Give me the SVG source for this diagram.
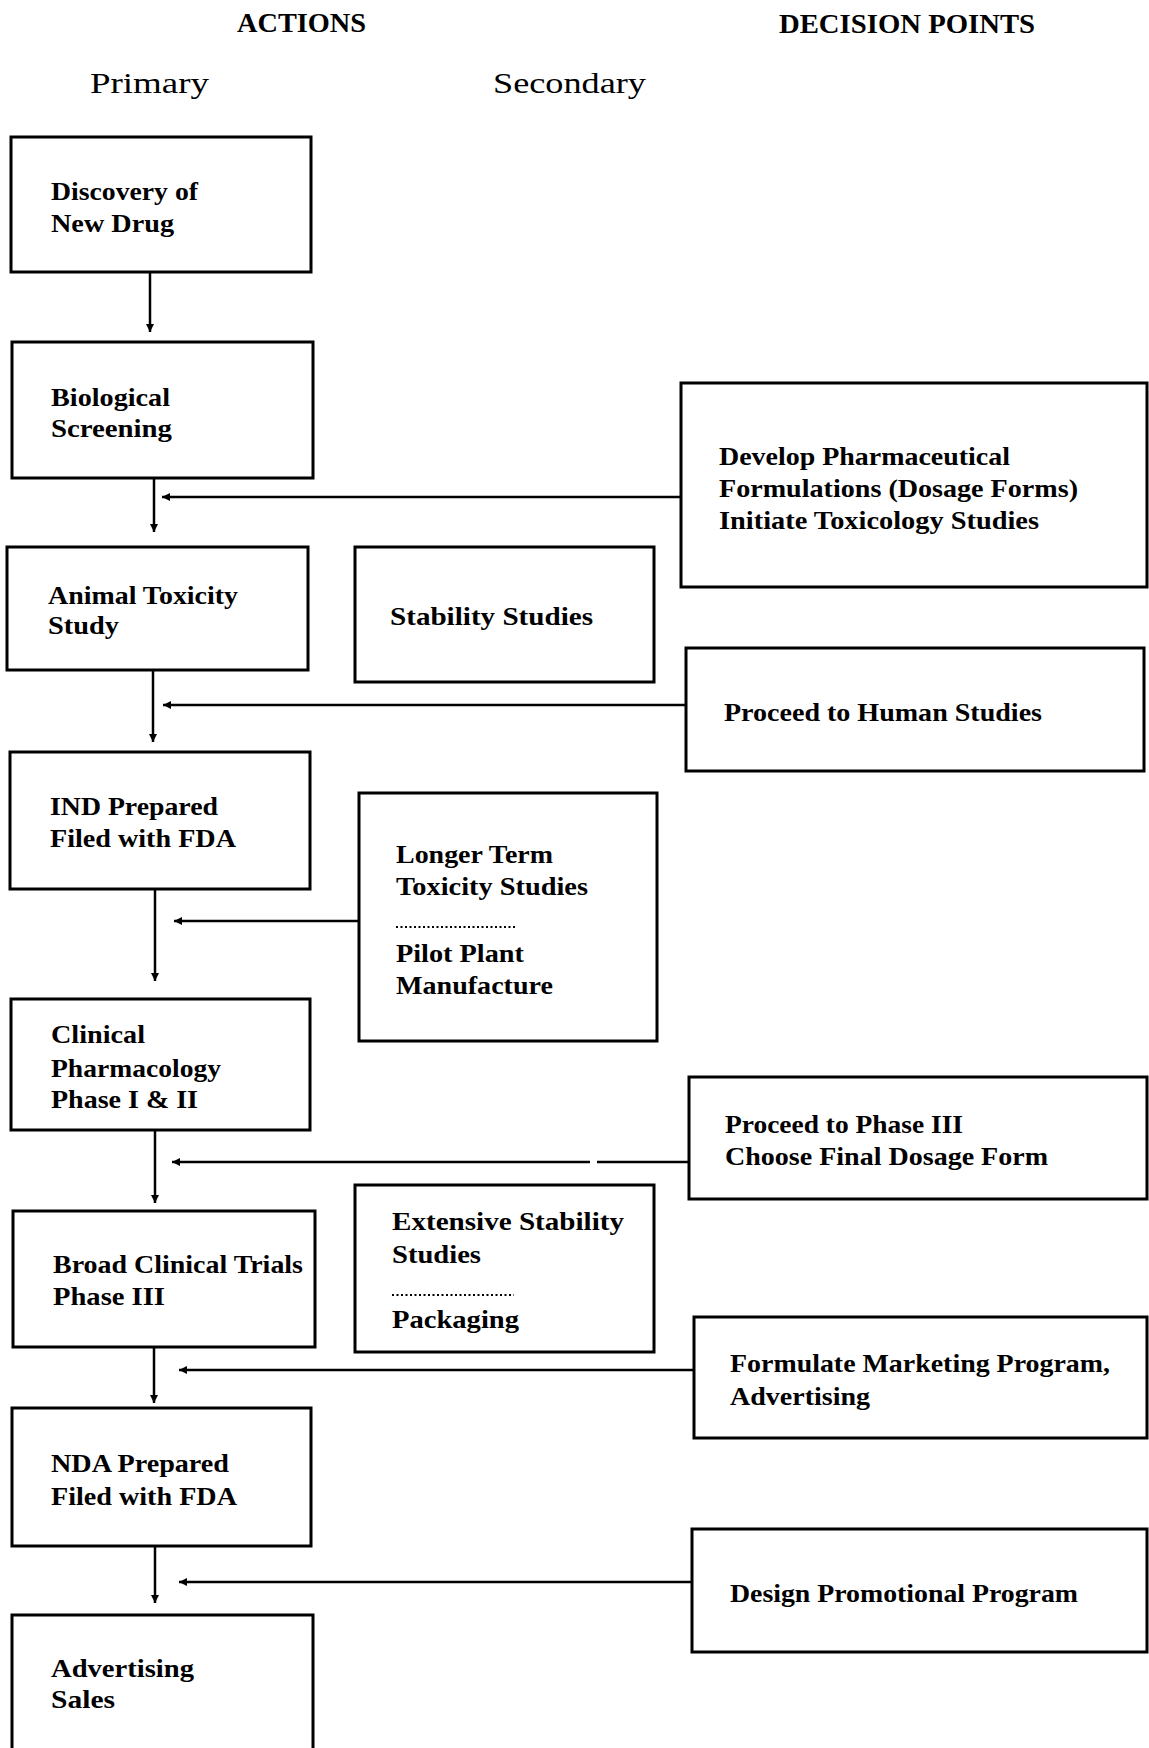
<svg xmlns="http://www.w3.org/2000/svg" width="1149" height="1748" viewBox="0 0 1149 1748">
<defs>
<style>
.box{fill:#fff;stroke:#000;stroke-width:3}
.t{font-family:"Liberation Serif","Times New Roman",serif;font-size:25px;font-weight:bold;fill:#000}
.hd{font-family:"Liberation Serif","Times New Roman",serif;font-size:27px;font-weight:bold;fill:#000}
.sub{font-family:"Liberation Serif","Times New Roman",serif;font-size:30px;fill:#000}
.c{fill:none;stroke:#000;stroke-width:2.5}
.dots{stroke:#000;stroke-width:2;stroke-dasharray:2 2.5}
</style>
<marker id="ah" markerUnits="userSpaceOnUse" markerWidth="9" markerHeight="9" refX="8" refY="4.5" orient="auto">
<path d="M0,0.5 L8,4.5 L0,8.5 z" fill="#000"/>
</marker>
</defs>
<rect width="1149" height="1748" fill="#fff"/>

<g id="headers">
<text class="hd" x="237" y="32" textLength="129" lengthAdjust="spacingAndGlyphs">ACTIONS</text>
<text class="hd" x="779" y="33" textLength="256" lengthAdjust="spacingAndGlyphs">DECISION POINTS</text>
<text class="sub" x="90" y="93" textLength="119" lengthAdjust="spacingAndGlyphs">Primary</text>
<text class="sub" x="493" y="93" textLength="153" lengthAdjust="spacingAndGlyphs">Secondary</text>
</g>

<g id="connectors">
<line class="c" x1="150" y1="272" x2="150" y2="332" marker-end="url(#ah)"/>
<line class="c" x1="154" y1="478" x2="154" y2="532" marker-end="url(#ah)"/>
<line class="c" x1="681" y1="497" x2="162" y2="497" marker-end="url(#ah)"/>
<line class="c" x1="153" y1="670" x2="153" y2="742" marker-end="url(#ah)"/>
<line class="c" x1="686" y1="705" x2="163" y2="705" marker-end="url(#ah)"/>
<line class="c" x1="155" y1="889" x2="155" y2="981" marker-end="url(#ah)"/>
<line class="c" x1="359" y1="921" x2="174" y2="921" marker-end="url(#ah)"/>
<line class="c" x1="155" y1="1130" x2="155" y2="1203" marker-end="url(#ah)"/>
<line class="c" x1="689" y1="1162" x2="597" y2="1162"/>
<line class="c" x1="590" y1="1162" x2="172" y2="1162" marker-end="url(#ah)"/>
<line class="c" x1="154" y1="1347" x2="154" y2="1403" marker-end="url(#ah)"/>
<line class="c" x1="694" y1="1370" x2="179" y2="1370" marker-end="url(#ah)"/>
<line class="c" x1="155" y1="1546" x2="155" y2="1603" marker-end="url(#ah)"/>
<line class="c" x1="692" y1="1582" x2="179" y2="1582" marker-end="url(#ah)"/>
</g>

<g id="discovery">
<rect class="box" x="11" y="137" width="300" height="135"/>
<text class="t" x="51" y="200" textLength="147" lengthAdjust="spacingAndGlyphs">Discovery of</text>
<text class="t" x="51" y="232" textLength="123" lengthAdjust="spacingAndGlyphs">New Drug</text>
</g>

<g id="biological">
<rect class="box" x="12" y="342" width="301" height="136"/>
<text class="t" x="51" y="406" textLength="119" lengthAdjust="spacingAndGlyphs">Biological</text>
<text class="t" x="51" y="437" textLength="121" lengthAdjust="spacingAndGlyphs">Screening</text>
</g>

<g id="develop">
<rect class="box" x="681" y="383" width="466" height="204"/>
<text class="t" x="719" y="465" textLength="291" lengthAdjust="spacingAndGlyphs">Develop Pharmaceutical</text>
<text class="t" x="719" y="497" textLength="359" lengthAdjust="spacingAndGlyphs">Formulations (Dosage Forms)</text>
<text class="t" x="719" y="529" textLength="320" lengthAdjust="spacingAndGlyphs">Initiate Toxicology Studies</text>
</g>

<g id="animal">
<rect class="box" x="7" y="547" width="301" height="123"/>
<text class="t" x="48" y="604" textLength="190" lengthAdjust="spacingAndGlyphs">Animal Toxicity</text>
<text class="t" x="48" y="634" textLength="71" lengthAdjust="spacingAndGlyphs">Study</text>
</g>

<g id="stability">
<rect class="box" x="355" y="547" width="299" height="135"/>
<text class="t" x="390" y="625" textLength="203" lengthAdjust="spacingAndGlyphs">Stability Studies</text>
</g>

<g id="human">
<rect class="box" x="686" y="648" width="458" height="123"/>
<text class="t" x="724" y="721" textLength="318" lengthAdjust="spacingAndGlyphs">Proceed to Human Studies</text>
</g>

<g id="ind">
<rect class="box" x="10" y="752" width="300" height="137"/>
<text class="t" x="50" y="815" textLength="168" lengthAdjust="spacingAndGlyphs">IND Prepared</text>
<text class="t" x="50" y="847" textLength="186" lengthAdjust="spacingAndGlyphs">Filed with FDA</text>
</g>

<g id="longer">
<rect class="box" x="359" y="793" width="298" height="248"/>
<text class="t" x="396" y="863" textLength="157" lengthAdjust="spacingAndGlyphs">Longer Term</text>
<text class="t" x="396" y="895" textLength="192" lengthAdjust="spacingAndGlyphs">Toxicity Studies</text>
<line class="dots" x1="396" y1="927" x2="517" y2="927"/>
<text class="t" x="396" y="962" textLength="128" lengthAdjust="spacingAndGlyphs">Pilot Plant</text>
<text class="t" x="396" y="994" textLength="157" lengthAdjust="spacingAndGlyphs">Manufacture</text>
</g>

<g id="clinical">
<rect class="box" x="11" y="999" width="299" height="131"/>
<text class="t" x="51" y="1043" textLength="94" lengthAdjust="spacingAndGlyphs">Clinical</text>
<text class="t" x="51" y="1077" textLength="170" lengthAdjust="spacingAndGlyphs">Pharmacology</text>
<text class="t" x="51" y="1108" textLength="147" lengthAdjust="spacingAndGlyphs">Phase I &amp; II</text>
</g>

<g id="phase3-decision">
<rect class="box" x="689" y="1077" width="458" height="122"/>
<text class="t" x="725" y="1133" textLength="238" lengthAdjust="spacingAndGlyphs">Proceed to Phase III</text>
<text class="t" x="725" y="1165" textLength="323" lengthAdjust="spacingAndGlyphs">Choose Final Dosage Form</text>
</g>

<g id="broad">
<rect class="box" x="13" y="1211" width="302" height="136"/>
<text class="t" x="53" y="1273" textLength="250" lengthAdjust="spacingAndGlyphs">Broad Clinical Trials</text>
<text class="t" x="53" y="1305" textLength="112" lengthAdjust="spacingAndGlyphs">Phase III</text>
</g>

<g id="extensive">
<rect class="box" x="355" y="1185" width="299" height="167"/>
<text class="t" x="392" y="1230" textLength="232" lengthAdjust="spacingAndGlyphs">Extensive Stability</text>
<text class="t" x="392" y="1263" textLength="89" lengthAdjust="spacingAndGlyphs">Studies</text>
<line class="dots" x1="392" y1="1295" x2="514" y2="1295"/>
<text class="t" x="392" y="1328" textLength="127" lengthAdjust="spacingAndGlyphs">Packaging</text>
</g>

<g id="formulate">
<rect class="box" x="694" y="1317" width="453" height="121"/>
<text class="t" x="730" y="1372" textLength="380" lengthAdjust="spacingAndGlyphs">Formulate Marketing Program,</text>
<text class="t" x="730" y="1405" textLength="140" lengthAdjust="spacingAndGlyphs">Advertising</text>
</g>

<g id="nda">
<rect class="box" x="12" y="1408" width="299" height="138"/>
<text class="t" x="51" y="1472" textLength="178" lengthAdjust="spacingAndGlyphs">NDA Prepared</text>
<text class="t" x="51" y="1505" textLength="186" lengthAdjust="spacingAndGlyphs">Filed with FDA</text>
</g>

<g id="design">
<rect class="box" x="692" y="1529" width="455" height="123"/>
<text class="t" x="730" y="1602" textLength="348" lengthAdjust="spacingAndGlyphs">Design Promotional Program</text>
</g>

<g id="advertising">
<rect class="box" x="12" y="1615" width="301" height="160"/>
<text class="t" x="51" y="1677" textLength="143" lengthAdjust="spacingAndGlyphs">Advertising</text>
<text class="t" x="51" y="1708" textLength="64" lengthAdjust="spacingAndGlyphs">Sales</text>
</g>
</svg>
